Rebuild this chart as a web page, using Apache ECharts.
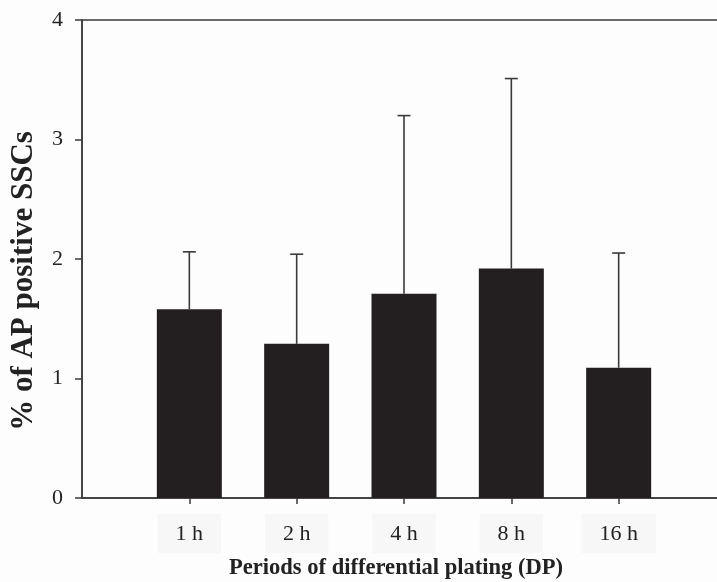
<!DOCTYPE html>
<html>
<head>
<meta charset="utf-8">
<script src="https://cdn.jsdelivr.net/npm/echarts@6/dist/echarts.min.js"></script>
<style>
html,body{margin:0;padding:0;background:#fdfdfd;}
#chart{width:717px;height:582px;}
</style>
</head>
<body>
<div id="chart"></div>
<script>
// Data
const categories = ['1 h', '2 h', '4 h', '8 h', '16 h'];
const means = [1.58, 1.29, 1.71, 1.92, 1.09];
const sds = [0.48, 0.75, 1.49, 1.59, 0.96];
const yTicks = [0, 1, 2, 3, 4];
const yTitle = '% of AP positive SSCs';
const xTitle = 'Periods of differential plating (DP)';

const axisCats = [''].concat(categories, ['']);
const barData = ['-'].concat(means, ['-']);
const errData = means.map((m, i) => [i + 1, m, m + sds[i]]);

const chart = echarts.init(document.getElementById('chart'));
const font = "'Liberation Serif', 'Times New Roman', serif";
const axisColor = '#3a3a3a';
const inner = (i) => i > 0 && i < axisCats.length - 1;

chart.setOption({
  backgroundColor: '#fdfdfd',
  animation: false,
  grid: {
    left: 82, top: 20, width: 644, height: 478,
    outerBoundsMode: 'none',
    containLabel: false,
    show: true, borderColor: axisColor, borderWidth: 1.5, backgroundColor: 'transparent'
  },
  xAxis: {
    type: 'category',
    data: axisCats,
    boundaryGap: false,
    axisLine: { show: true, lineStyle: { color: axisColor, width: 1.5 } },
    axisTick: {
      show: true, length: 6, inside: false,
      interval: inner,
      lineStyle: { color: axisColor, width: 1.5 }
    },
    axisLabel: {
      interval: inner,
      margin: 16,
      fontFamily: font,
      fontSize: 22,
      color: '#222',
      backgroundColor: '#f7f7f7',
      padding: [9, 18, 8, 18]
    },
    splitLine: { show: false }
  },
  yAxis: {
    type: 'value',
    min: yTicks[0], max: yTicks[yTicks.length - 1], interval: 1,
    axisLine: { show: true, lineStyle: { color: axisColor, width: 1.5 } },
    axisTick: { show: true, length: 7, lineStyle: { color: axisColor, width: 1.5 } },
    axisLabel: { margin: 19, fontFamily: font, fontSize: 22, color: '#222' },
    splitLine: { show: false }
  },
  series: [
    {
      type: 'bar',
      data: barData,
      barWidth: 65,
      itemStyle: { color: '#231f20' },
      z: 2
    },
    {
      type: 'custom',
      data: errData,
      encode: { x: 0, y: [1, 2] },
      z: 3,
      renderItem: function (params, api) {
        const base = api.coord([api.value(0), api.value(1)]);
        const top = api.coord([api.value(0), api.value(2)]);
        const hw = 6.5;
        const style = { stroke: '#3a3a3a', lineWidth: 1.6, fill: null };
        return {
          type: 'group',
          children: [
            { type: 'line', shape: { x1: base[0], y1: base[1], x2: top[0], y2: top[1] }, style: style },
            { type: 'line', shape: { x1: top[0] - hw, y1: top[1], x2: top[0] + hw, y2: top[1] }, style: style }
          ]
        };
      }
    }
  ],
  graphic: [
    {
      type: 'text',
      x: 24, y: 281,
      rotation: Math.PI / 2,
      style: {
        text: yTitle,
        font: 'bold 31px ' + font,
        fill: '#222',
        align: 'center',
        verticalAlign: 'middle'
      }
    },
    {
      type: 'text',
      x: 396, y: 568,
      scaleX: 0.94,
      style: {
        text: xTitle,
        font: 'bold 24px ' + font,
        fill: '#222',
        align: 'center',
        verticalAlign: 'middle'
      }
    }
  ]
});
</script>
</body>
</html>
